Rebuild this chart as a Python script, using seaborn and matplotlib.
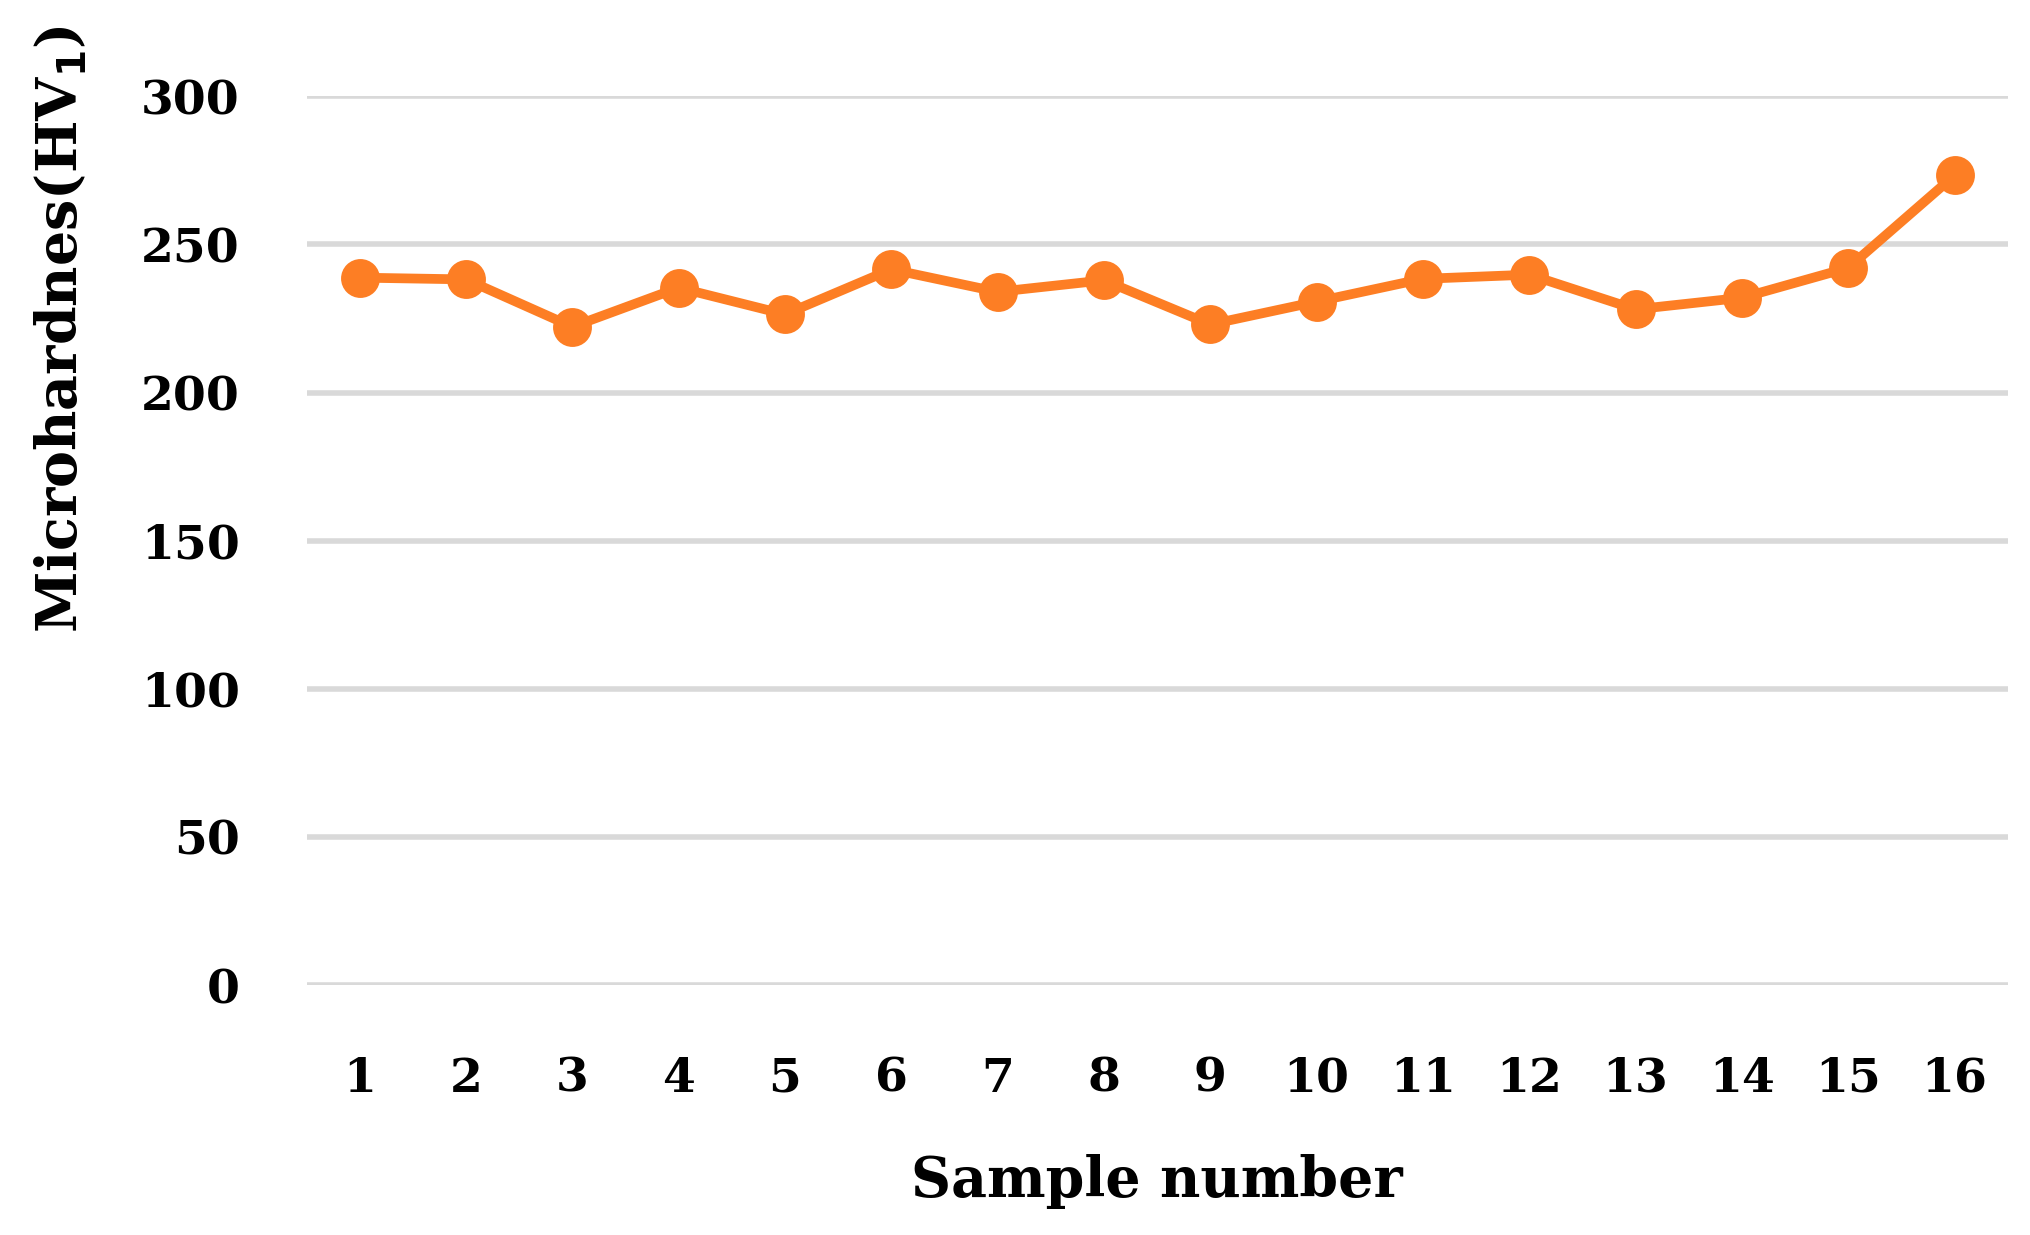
import numpy as np
import pandas as pd
import seaborn as sns
import matplotlib.pyplot as plt

sample_number = list(range(1, 17))
microhardness = [238.8, 238.2, 222.2, 235.4, 226.4, 241.6, 234.0, 237.9,
                 223.0, 230.7, 238.4, 239.8, 228.1, 232.0, 242.1, 273.3]
y_ticks = [0, 50, 100, 150, 200, 250, 300]

df = pd.DataFrame({"sample": sample_number, "hv": microhardness})

sns.set_style("white")
plt.rcParams['font.family'] = ['DejaVu Serif']
plt.rcParams['font.weight'] = 'bold'
plt.rcParams['text.color'] = 'black'
plt.rcParams['axes.labelcolor'] = 'black'
plt.rcParams['xtick.color'] = 'black'
plt.rcParams['ytick.color'] = 'black'

fig = plt.figure(figsize=(20.3, 12.35), dpi=100)
ax = fig.add_axes([0.151, 0.2024, 0.838, 0.7196])

sns.lineplot(data=df, x="sample", y="hv", ax=ax, color='#FD7E24',
             linewidth=7, marker='o', markersize=28, markeredgewidth=0,
             zorder=3)

ax.set_xlim(0.5, 16.5)
ax.set_ylim(0, 300)
ax.set_yticks(y_ticks)
ax.set_xticks(sample_number)
ax.grid(axis='y', color='#D9D9D9', linewidth=4)
ax.grid(axis='x', visible=False)
for s in ax.spines.values():
    s.set_visible(False)
ax.tick_params(axis='both', length=0, labelsize=34)
ax.tick_params(axis='y', pad=48)
ax.tick_params(axis='x', pad=51)
for lab in ax.get_xticklabels() + ax.get_yticklabels():
    lab.set_fontweight('bold')

ax.set_xlabel("Sample number", fontsize=40, fontweight='bold')
ax.set_ylabel(r"Microhardnes(HV$_\mathbf{1}$)", fontsize=40, fontweight='bold')
ax.xaxis.set_label_coords(0.5, -0.19)
ax.yaxis.set_label_coords(-0.128, 0.738)

fig.savefig("out.png", dpi=100)
